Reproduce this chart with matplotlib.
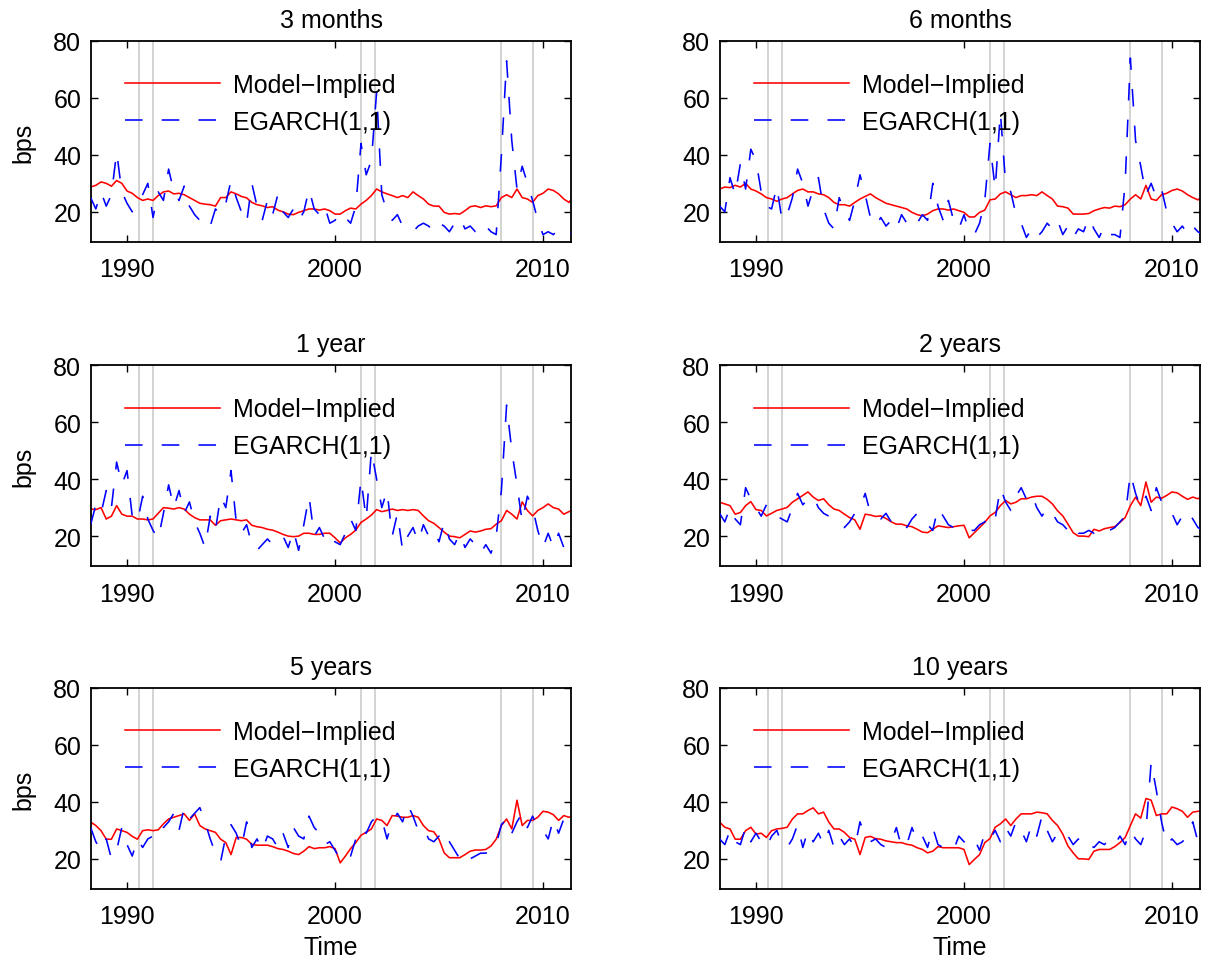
import numpy as np
import matplotlib.pyplot as plt

plt.rcParams['font.family'] = ['Liberation Sans', 'DejaVu Sans']

# quarterly observations starting 1988Q1 (values in bps)
start_year = 1988.25
step = 0.25
recessions = [1990.58, 1991.25, 2001.25, 2001.92, 2008.0, 2009.5]
titles = ['3 months', '6 months', '1 year', '2 years', '5 years', '10 years']

model_3m = [28.7, 29.3, 30.5, 30.0, 29.0, 31.0, 30.0, 27.3, 26.5, 25.0, 24.0, 24.5,
            24.0, 25.7, 27.0, 27.3, 26.3, 26.5, 26.0, 25.0, 24.0, 23.0, 22.7, 22.5,
            22.0, 25.0, 25.0, 27.0, 26.3, 25.4, 24.9, 23.3, 22.5, 22.1, 21.5, 21.8,
            20.6, 20.0, 19.2, 19.0, 19.8, 20.4, 21.0, 21.0, 20.6, 21.0, 20.4, 19.2,
            19.2, 20.4, 21.3, 21.0, 22.7, 24.0, 25.7, 28.0, 27.0, 26.3, 25.7, 25.0,
            25.7, 25.0, 27.0, 25.7, 24.5, 22.7, 22.0, 22.0, 19.8, 19.2, 19.4, 19.2,
            20.4, 21.8, 22.1, 21.5, 22.1, 21.8, 22.1, 25.0, 26.0, 25.0, 28.0, 25.0,
            24.5, 23.3, 25.7, 26.5, 28.0, 27.5, 26.3, 24.5, 23.3, 25.7]
egarch_3m = [25, 21, 27, 22, 26, 41, 27, 23, 20, 22, 26, 30,
             18, 27, 24, 35, 27, 24, 29, 22, 19, 17, 14, 15,
             21, 19, 23, 31, 25, 20, 16, 30, 22, 17, 24, 19,
             26, 20, 18, 21, 17, 20, 28, 21, 19, 22, 16, 17,
             20, 18, 16, 22, 44, 33, 38, 62, 26, 20, 17, 19,
             15, 14, 13, 15, 16, 15, 13, 16, 15, 13, 16, 18,
             14, 15, 13, 12, 15, 13, 12, 40, 73, 45, 28, 36,
             30, 24, 17, 12, 13, 12, 14, 13, 12, 13]

model_6m = [28.0, 28.7, 28.5, 29.3, 28.7, 30.0, 28.0, 27.3, 26.3, 25.0, 24.5, 23.7,
            24.5, 25.0, 26.3, 27.5, 28.0, 27.0, 27.0, 26.3, 26.0, 25.0, 23.3, 22.5,
            22.5, 22.0, 23.3, 24.5, 25.4, 26.3, 25.0, 24.0, 23.0, 22.5, 22.0, 21.5,
            21.0, 19.8, 19.0, 18.6, 19.2, 20.4, 21.0, 21.0, 20.6, 21.0, 20.4, 19.8,
            18.2, 18.2, 19.8, 20.6, 24.2, 24.5, 26.3, 27.0, 26.0, 25.0, 25.7, 25.7,
            26.0, 25.7, 27.0, 25.7, 24.5, 22.0, 21.8, 21.3, 19.2, 19.2, 19.2, 19.4,
            20.4, 21.0, 21.5, 21.3, 22.0, 21.8, 22.5, 24.5, 26.0, 24.5, 29.3, 24.5,
            24.0, 26.0, 26.5, 27.5, 28.0, 27.3, 26.0, 25.0, 24.2, 25.7]
egarch_6m = [22, 20, 32, 26, 37, 28, 42, 38, 27, 22, 21, 29,
             17, 19, 25, 35, 30, 22, 28, 32, 21, 16, 14, 25,
             20, 17, 24, 33, 26, 18, 15, 18, 15, 17, 14, 19,
             16, 18, 16, 19, 17, 30, 22, 17, 24, 17, 14, 19,
             13, 12, 16, 24, 44, 28, 55, 30, 27, 19, 16, 11,
             14, 11, 13, 16, 14, 17, 12, 15, 11, 14, 13, 18,
             14, 11, 15, 12, 12, 11, 30, 74, 45, 36, 26, 30,
             25, 28, 20, 16, 13, 15, 12, 15, 13, 12]

model_1y = [29.5, 29.3, 30.0, 26.0, 27.0, 30.7, 27.7, 27.0, 27.0, 26.0, 26.0, 25.7,
            26.0, 28.0, 30.0, 29.8, 29.5, 30.0, 29.5, 27.7, 26.5, 25.7, 25.7, 25.7,
            23.8, 25.4, 25.7, 26.0, 25.7, 25.4, 25.7, 23.8, 23.3, 23.0, 22.4, 22.1,
            21.4, 20.6, 20.0, 19.8, 20.0, 21.0, 21.0, 20.6, 20.6, 21.0, 21.0, 19.4,
            17.6, 19.4, 20.6, 22.1, 24.8, 26.0, 27.4, 29.3, 28.6, 29.0, 29.5, 29.0,
            29.3, 29.0, 29.3, 29.0, 27.1, 25.4, 24.5, 23.0, 21.4, 20.0, 19.8, 19.4,
            20.6, 21.8, 21.4, 21.8, 22.4, 22.6, 24.2, 25.4, 29.0, 27.7, 26.0, 32.0,
            29.0, 27.1, 29.0, 30.0, 31.3, 30.0, 29.5, 27.7, 28.6, 29.3]
egarch_1y = [24, 31, 28, 36, 30, 46, 38, 43, 27, 25, 34, 26,
             22, 19, 28, 38, 30, 36, 28, 32, 25, 21, 16, 27,
             22, 34, 30, 43, 25, 21, 24, 17, 15, 17, 19, 17,
             18, 20, 16, 22, 15, 24, 34, 20, 23, 19, 21, 18,
             17, 21, 26, 22, 40, 26, 50, 40, 30, 36, 20, 28,
             15, 20, 23, 18, 24, 20, 22, 18, 25, 19, 17, 21,
             16, 19, 17, 14, 17, 14, 20, 36, 66, 50, 38, 25,
             34, 30, 22, 16, 21, 16, 21, 16, 11, 9]

model_2y = [31.9, 31.3, 30.7, 27.7, 28.3, 30.7, 32.1, 29.3, 29.0, 27.1, 28.0, 29.0,
            29.5, 30.1, 31.9, 33.1, 34.3, 35.5, 33.7, 32.5, 33.1, 31.0, 29.5, 29.0,
            27.7, 26.5, 25.7, 22.4, 27.7, 27.4, 26.9, 27.1, 26.2, 25.0, 24.2, 24.2,
            23.6, 23.3, 22.4, 21.4, 21.2, 22.4, 23.6, 23.3, 23.0, 23.3, 23.6, 23.8,
            19.4, 21.2, 23.0, 24.8, 27.1, 28.3, 30.7, 32.5, 31.3, 31.9, 33.1, 33.1,
            33.7, 34.0, 34.0, 32.9, 31.3, 28.9, 27.1, 24.2, 21.2, 20.0, 20.0, 19.8,
            22.4, 21.8, 22.6, 23.0, 23.3, 24.8, 26.5, 30.7, 33.7, 30.7, 39.0, 31.9,
            33.7, 33.3, 34.3, 35.5, 35.2, 34.0, 32.9, 33.7, 33.1, 34.3]
egarch_2y = [28, 25, 30, 26, 24, 37, 33, 30, 27, 31, 28, 27,
             26, 25, 30, 35, 31, 33, 34, 30, 28, 27, 25, 24,
             23, 25, 28, 30, 35, 28, 27, 26, 28, 25, 24, 25,
             23, 26, 28, 27, 24, 22, 30, 27, 24, 23, 23, 23,
             22, 22, 24, 25, 28, 26, 37, 32, 29, 34, 37, 33,
             35, 30, 27, 30, 28, 25, 24, 22, 24, 21, 21, 22,
             21, 23, 22, 22, 23, 25, 27, 42, 35, 30, 34, 29,
             37, 32, 29, 28, 24, 27, 29, 26, 23, 22]

model_5y = [32.9, 31.7, 29.9, 26.9, 26.9, 30.5, 29.9, 29.3, 27.9, 26.9, 29.9, 30.2,
            29.9, 30.2, 32.3, 34.0, 34.6, 35.2, 35.8, 33.5, 35.8, 31.7, 30.5, 29.9,
            29.3, 26.9, 25.7, 21.5, 27.5, 27.5, 26.9, 25.1, 24.8, 24.8, 24.8, 24.3,
            23.6, 23.3, 22.7, 21.9, 21.5, 22.7, 24.3, 23.6, 23.9, 23.9, 24.3, 23.6,
            18.6, 21.0, 23.6, 25.7, 28.3, 29.3, 30.5, 34.0, 33.5, 31.7, 35.2, 35.0,
            34.6, 34.6, 35.2, 34.6, 31.7, 29.9, 29.5, 26.9, 22.1, 20.4, 20.4, 20.4,
            21.5, 22.7, 23.1, 23.1, 23.3, 24.5, 26.9, 31.7, 34.0, 30.5, 40.6, 31.7,
            33.5, 33.5, 34.6, 36.7, 36.4, 35.5, 33.5, 35.2, 34.6, 35.2]
egarch_5y = [31, 26, 23, 27, 20, 23, 31, 25, 21, 27, 24, 27,
             28, 27, 31, 33, 36, 30, 38, 34, 36, 38, 33, 27,
             22, 19, 28, 32, 29, 24, 33, 24, 27, 23, 28, 27,
             24, 29, 24, 31, 28, 27, 35, 31, 29, 25, 26, 23,
             20, 22, 21, 27, 31, 29, 33, 35, 34, 27, 33, 36,
             33, 39, 35, 30, 31, 27, 26, 28, 24, 26, 23, 20,
             22, 20, 21, 22, 22, 23, 25, 32, 34, 29, 33, 36,
             31, 35, 31, 30, 27, 34, 29, 34, 30, 28]

model_10y = [32.9, 31.1, 30.5, 26.9, 26.9, 29.9, 31.1, 28.7, 29.0, 27.5, 29.9, 30.5,
             30.7, 31.1, 34.0, 35.8, 35.8, 37.0, 37.9, 35.8, 36.4, 32.9, 30.5, 30.5,
             29.3, 27.5, 26.9, 21.5, 27.5, 27.9, 27.1, 26.9, 26.3, 26.0, 25.7, 25.7,
             25.1, 24.8, 23.9, 23.3, 22.1, 22.7, 24.3, 23.9, 23.9, 23.9, 23.9, 23.3,
             18.0, 19.8, 21.5, 25.7, 27.1, 31.1, 32.3, 34.0, 31.7, 34.0, 35.8, 35.8,
             35.8, 36.4, 36.2, 35.8, 33.5, 31.7, 28.7, 24.5, 22.1, 20.0, 20.0, 19.8,
             22.7, 23.3, 23.3, 23.3, 24.3, 25.7, 27.5, 31.7, 35.8, 34.3, 41.2, 40.6,
             35.2, 35.8, 35.8, 38.2, 37.6, 36.7, 34.6, 36.4, 36.7, 37.0]
egarch_10y = [27, 25, 30, 26, 25, 31, 26, 29, 26, 24, 28, 30,
              25, 24, 27, 32, 24, 30, 26, 29, 25, 30, 24, 28,
              25, 27, 24, 33, 28, 26, 27, 25, 24, 26, 31, 24,
              25, 31, 26, 28, 24, 31, 25, 24, 24, 23, 28, 26,
              25, 27, 23, 29, 27, 30, 26, 31, 28, 33, 30, 26,
              32, 28, 35, 30, 26, 29, 27, 28, 25, 27, 24, 25,
              24, 26, 25, 27, 25, 28, 25, 30, 27, 25, 30, 54,
              44, 33, 25, 27, 25, 26, 28, 33, 26, 25]

model = [model_3m, model_6m, model_1y, model_2y, model_5y, model_10y]
egarch = [egarch_3m, egarch_6m, egarch_1y, egarch_2y, egarch_5y, egarch_10y]

fs = 18
fig = plt.figure(figsize=(12.14, 9.62), dpi=100)
lefts = [0.075, 0.5931]
bottoms = [0.7474, 0.4103, 0.0748]
w, h = 0.3954, 0.209

for k in range(6):
    r, c = k // 2, k % 2
    ax = fig.add_axes([lefts[c], bottoms[r], w, h])
    for d in recessions:
        ax.axvline(d, color='0.8', lw=1.2, zorder=1)
    t = start_year + step * np.arange(len(model[k]))
    ax.plot(t, model[k], color='red', lw=1.15, label='Model\u2212Implied', zorder=2)
    t2 = start_year + step * np.arange(len(egarch[k]))
    ax.plot(t2, egarch[k], color='blue', lw=1.15, ls=(0, (11, 12)),
            label='EGARCH(1,1)', zorder=3)
    ax.set_xlim(1988.27, 2011.35)
    ax.set_ylim(9.4, 80)
    ax.set_xticks([1990, 2000, 2010])
    ax.set_yticks([20, 40, 60, 80])
    ax.tick_params(axis='both', direction='in', top=True, right=True, length=5,
                   width=1, labelsize=fs)
    ax.tick_params(axis='y', pad=7)
    ax.tick_params(axis='x', pad=11)
    for sp in ax.spines.values():
        sp.set_linewidth(1.3)
    ax.set_title(titles[k], fontsize=fs, pad=10)
    if c == 0:
        ax.set_ylabel('bps', fontsize=fs, labelpad=13)
    if r == 2:
        ax.set_xlabel('Time', fontsize=fs, labelpad=5)
    ax.legend(loc='upper left', bbox_to_anchor=(0.071, 0.84), frameon=False,
              fontsize=fs, handlelength=3.8, handletextpad=0.52,
              labelspacing=0.52, borderpad=0, borderaxespad=0)

fig.savefig('out.png', dpi=100)
